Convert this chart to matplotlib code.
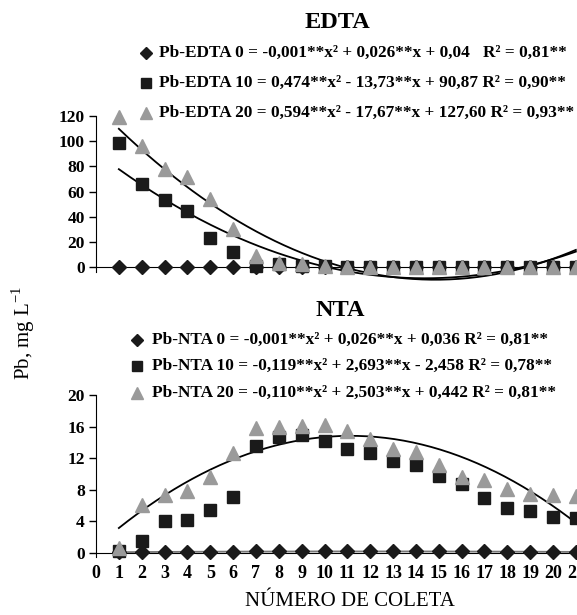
"""Pb em lixiviado: EDTA e NTA por número de coleta."""

import matplotlib

matplotlib.use("Agg")
import matplotlib.pyplot as plt
import numpy as np

plt.rcParams.update(
    {
        "font.family": ["Liberation Serif", "DejaVu Serif"],
        "mathtext.fontset": "custom",
        "mathtext.rm": "Liberation Serif",
        "figure.facecolor": "white",
    }
)

coleta = np.arange(1, 22)

edta_0 = [0] * 21
edta_10 = [98.3, 65.7, 53.0, 44.5, 23.3, 12.0, 1.0, 2.0, 1.0, 0.5,
           0, 0, 0, 0, 0, 0, 0, 0, 0, 0, 0]
edta_20 = [119.0, 96.0, 78.0, 71.5, 54.0, 30.0, 9.0, 3.5, 2.0, 1.0,
           0, 0, 0, 0, 0, 0, 0, 0, 0, 0, 0]

nta_0 = [0.1, 0.15, 0.15, 0.15, 0.15, 0.15, 0.2, 0.2, 0.2, 0.2,
         0.2, 0.2, 0.2, 0.2, 0.2, 0.2, 0.2, 0.15, 0.15, 0.15, 0.15]
nta_10 = [0.3, 1.5, 4.1, 4.2, 5.4, 7.1, 13.6, 14.7, 15.0, 14.2,
          13.2, 12.7, 11.7, 11.2, 9.7, 8.7, 7.0, 5.7, 5.3, 4.6, 4.4]
nta_20 = [0.6, 6.1, 7.4, 7.9, 9.6, 12.7, 15.8, 15.9, 16.1, 16.2,
          15.4, 14.4, 13.2, 12.8, 11.1, 9.6, 9.2, 8.1, 7.5, 7.3, 7.2]

edta_eq = [
    "Pb-EDTA 0 = -0,001**x² + 0,026**x + 0,04   R² = 0,81**",
    "Pb-EDTA 10 = 0,474**x² - 13,73**x + 90,87 R² = 0,90**",
    "Pb-EDTA 20 = 0,594**x² - 17,67**x + 127,60 R² = 0,93**",
]
nta_eq = [
    "Pb-NTA 0 = -0,001**x² + 0,026**x + 0,036 R² = 0,81**",
    "Pb-NTA 10 = -0,119**x² + 2,693**x - 2,458 R² = 0,78**",
    "Pb-NTA 20 = -0,110**x² + 2,503**x + 0,442 R² = 0,81**",
]

W, H = 577, 615
GREY = "#9a9a9a"
DARK = "#1a1a1a"
styles = [
    dict(marker="D", color=DARK, ms=7),
    dict(marker="s", color=DARK, ms=8),
    dict(marker="^", color=GREY, ms=10),
]

fig = plt.figure(figsize=(W / 100, H / 100), dpi=100)


def trend(ax, y, color="black"):
    coef = np.polyfit(coleta, y, 2)
    xs = np.linspace(1, 21, 200)
    ax.plot(xs, np.polyval(coef, xs), color=color, lw=1.3, zorder=2,
            clip_on=False)


def panel(rect, series, ylim, yticks, ybound, show_x):
    ax = fig.add_axes(rect)
    for y, st in zip(series, styles):
        ax.plot(coleta, y, ls="none", marker=st["marker"], color=st["color"],
                ms=st["ms"], mec=st["color"], zorder=3, clip_on=False)
    ax.set_xlim(0, 21.05)
    ax.set_ylim(*ylim)
    ax.set_yticks(yticks)
    ax.spines[["top", "right"]].set_visible(False)
    ax.spines["bottom"].set_position(("data", 0))
    ax.spines["left"].set_bounds(*ybound)
    ax.tick_params(axis="y", direction="out", length=5, width=1,
                   labelsize=12.5, pad=3)
    for lab in ax.get_yticklabels():
        lab.set_fontweight("bold")
    if show_x:
        ax.set_xticks(range(0, 22))
        ax.tick_params(axis="x", length=0, labelsize=13, pad=9)
        for lab in ax.get_xticklabels():
            lab.set_fontweight("bold")
    else:
        ax.set_xticks([])
    ax.patch.set_alpha(0)
    return ax


ax1 = panel([96 / W, 1 - 279.6 / H, 481 / W, 163.6 / H],
            [edta_0, edta_10, edta_20], (-10, 120), range(0, 121, 20),
            (-4, 120), False)
trend(ax1, edta_10)
trend(ax1, edta_20)

ax2 = panel([96 / W, 1 - 553 / H, 481 / W, 158 / H],
            [nta_0, nta_10, nta_20], (0, 20), range(0, 21, 4),
            (-0.5, 20), True)
trend(ax2, nta_0, color="#777777")
trend(ax2, nta_20)


def legend_rows(texts, rows, mx, tx):
    for text, ry, st in zip(texts, rows, styles):
        fy = 1 - ry / H
        fig.add_artist(plt.Line2D([mx / W], [fy], marker=st["marker"],
                                  color=st["color"], ms=st["ms"] * 0.85,
                                  ls="none"))
        fig.text(tx / W, fy, text, fontsize=12.4, fontweight="bold",
                 va="center", ha="left")


fig.text(337 / W, 1 - 23 / H, "EDTA", fontsize=17.5, fontweight="bold",
         ha="center", va="center")
legend_rows(edta_eq, [53, 83, 113], 146, 159)

fig.text(340 / W, 1 - 310 / H, "NTA", fontsize=17.5, fontweight="bold",
         ha="center", va="center")
legend_rows(nta_eq, [340, 366, 393], 137, 152)

fig.text(23 / W, 1 - 333 / H, r"Pb, mg L$^{\mathregular{-1}}$", fontsize=15,
         rotation=90, ha="center", va="center")
fig.text(350 / W, 1 - 602 / H, "NÚMERO DE COLETA", fontsize=15,
         ha="center", va="center")

fig.savefig("out.png", dpi=100)
